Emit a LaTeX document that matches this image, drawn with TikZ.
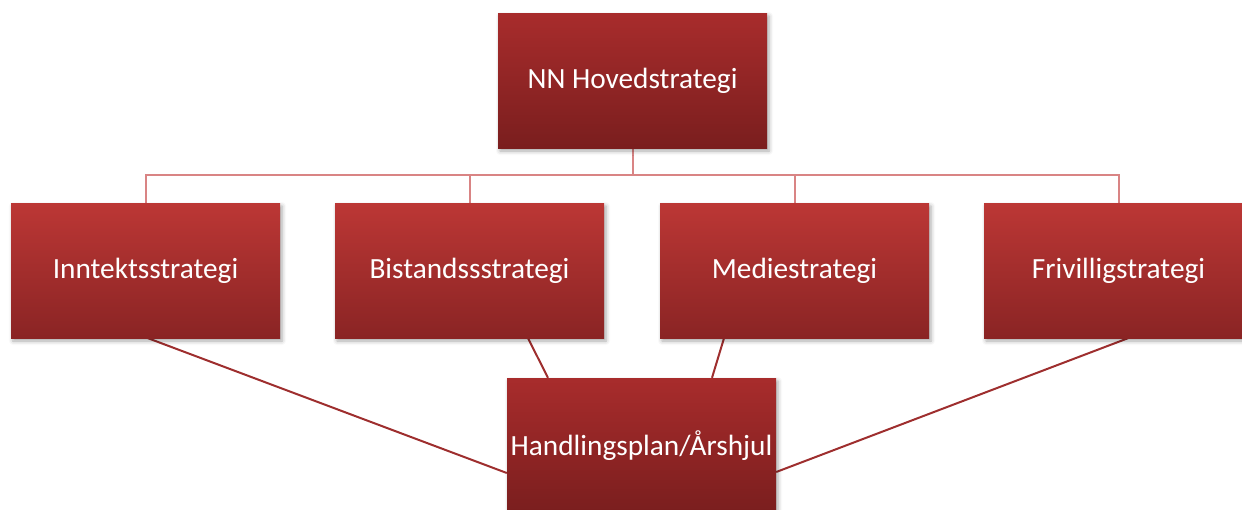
\documentclass[tikz,border=0pt]{standalone}
\usepackage{fontspec}
\setmainfont{Carlito}
\usetikzlibrary{shadows.blur,backgrounds}
\definecolor{rowtop}{HTML}{BC3735}
\definecolor{rowbot}{HTML}{8A2424}
\definecolor{hitop}{HTML}{A82C2C}
\definecolor{hibot}{HTML}{7A1E1E}
\definecolor{treecol}{HTML}{D98484}
\definecolor{linkcol}{HTML}{9E2E2E}
\begin{document}
\begin{tikzpicture}[x=1pt,y=-1pt,
  box/.style={rectangle, inner sep=0pt, minimum width=269pt, minimum height=135pt,
    text=white, font=\fontsize{29.3}{34}\selectfont,
    blur shadow={shadow xshift=2pt, shadow yshift=-3pt, shadow blur radius=4pt, shadow opacity=35}},
  rowbox/.style={box, top color=rowtop, bottom color=rowbot},
  hibox/.style={box, top color=hitop, bottom color=hibot},
  tree/.style={draw=treecol, line width=2pt},
  link/.style={draw=linkcol, line width=2pt}]
\useasboundingbox (0,0) rectangle (1242,509);
\coordinate (bus) at (0,175);
% boxes
\node[hibox] (hs) at (632.5,80.5) {NN Hovedstrategi};
\node[rowbox] (inn) at (145.5,270.5) {Inntektsstrategi};
\node[rowbox] (bis) at (469.5,270.5) {Bistandssstrategi};
\node[rowbox] (med) at (794.5,270.5) {Mediestrategi};
\node[rowbox] (fri) at (1118.5,270.5) {Frivilligstrategi};
\node[hibox] (hp) at (641.5,445.5) {Handlingsplan/Årshjul};
\begin{scope}[on background layer]
% tree connectors
\path[tree] (hs.south) -- (hs.south |- bus);
\path[tree] (inn.north) -- (inn.north |- bus) -- (fri.north |- bus) -- (fri.north);
\path[tree] (bis.north) -- (bis.north |- bus);
\path[tree] (med.north) -- (med.north |- bus);
% links to action plan
\path[link] ([xshift=2.5pt]inn.south) -- ([yshift=-27.5pt]hp.west);
\path[link] ([xshift=58.5pt]bis.south) -- ([xshift=-93.5pt]hp.north);
\path[link] ([xshift=-70.5pt]med.south) -- ([xshift=70.5pt]hp.north);
\path[link] ([xshift=9.5pt]fri.south) -- ([yshift=-26.5pt]hp.east);
\end{scope}
\end{tikzpicture}
\end{document}
